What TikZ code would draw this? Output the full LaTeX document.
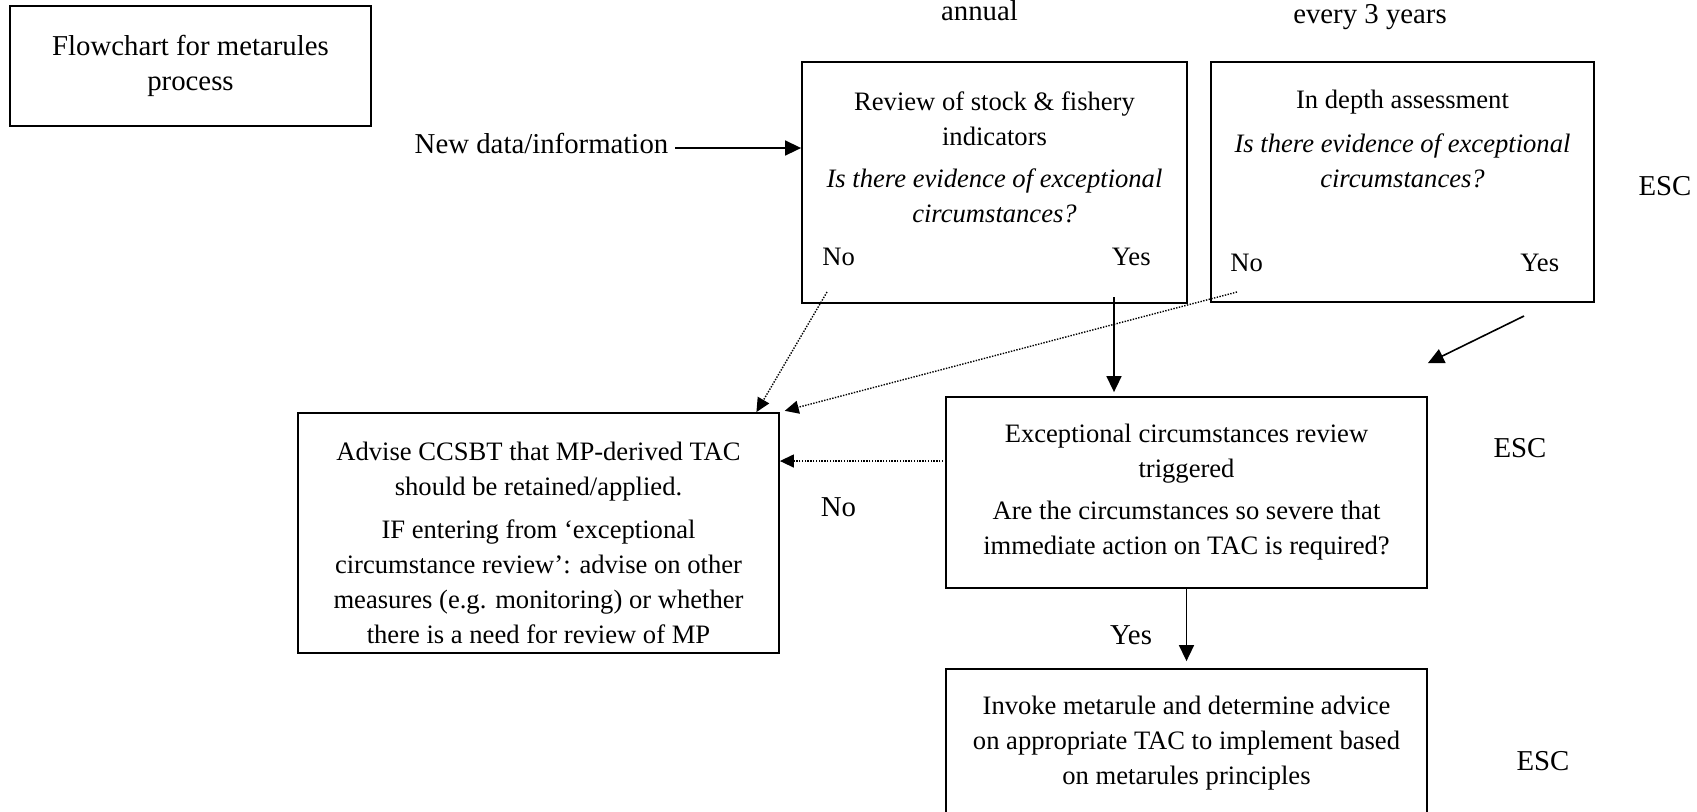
\documentclass[tikz,border=0pt]{standalone}
\usepackage{fontspec}
\setmainfont{Liberation Serif}
\usetikzlibrary{arrows.meta}

\begin{document}
\begin{tikzpicture}[
  x=0.5pt, y=-0.5pt,
  bigfont/.style={font=\fontsize{14.4pt}{17.5pt}\selectfont},
  boxfont/.style={font=\fontsize{13.3pt}{17.5pt}\selectfont},
  box/.style={draw, line width=0.9pt, inner sep=0pt, align=center},
  boxtext/.style={boxfont, align=center, inner sep=0pt},
  arrow/.style={-{Triangle[length=8pt, width=7.5pt]}, line width=0.8pt},
  dotarrow/.style={-{Triangle[length=7pt, width=6.5pt]}, line width=0.7pt, dash pattern=on 0.7pt off 0.7pt}
]
\useasboundingbox (0,0) rectangle (1697,811);

% boxes
\node[box, bigfont, minimum width=180.5pt, minimum height=60pt] (title) at (190.5,66) {Flowchart for metarules\\process};
\node[box, minimum width=192.5pt, minimum height=120.5pt] (review) at (994.5,182.5) {};
\node[boxtext] (reviewtext) at (994.5,157.5) {Review of stock \& fishery\\indicators\\[3.5pt]\textit{Is there evidence of exceptional}\\\textit{circumstances?}};
\node[box, minimum width=191.5pt, minimum height=120pt] (assess) at (1402.5,182) {};
\node[boxtext] (assesstext) at (1402.5,139) {In depth assessment\\[4.5pt]\textit{Is there evidence of exceptional}\\\textit{circumstances?}};
\node[box, boxfont, minimum width=240.5pt, minimum height=95.5pt] (trigger) at (1186.5,492.5) {Exceptional circumstances review\\triggered\\[3.5pt]Are the circumstances so severe that\\immediate action on TAC is required?};
\node[box, minimum width=240.5pt, minimum height=120pt] (advise) at (538.5,533) {};
\node[boxtext] (advisetext) at (538.5,542.5) {Advise CCSBT that MP-derived TAC\\should be retained/applied.\\[4pt]IF entering from ‘exceptional\\circumstance review’: advise on other\\measures (e.g. monitoring) or whether\\there is a need for review of MP};
\node[box, boxfont, minimum width=240.5pt, minimum height=74pt] (invoke) at (1186.5,743) {Invoke metarule and determine advice\\on appropriate TAC to implement based\\on metarules principles};

% answers inside the boxes
\node[boxfont, anchor=west, inner sep=0pt] (reviewno) at (822,257) {No};
\node[boxfont, anchor=east, inner sep=0pt] (reviewyes) at (1151,257) {Yes};
\node[boxfont, anchor=west, inner sep=0pt] (assessno) at (1230,263) {No};
\node[boxfont, anchor=east, inner sep=0pt] (assessyes) at (1559.5,263) {Yes};

% free labels
\node[bigfont, anchor=base] (newdata) at (541.5,153) {New data/information};
\node[bigfont, anchor=base] (annual) at (979.5,20) {annual};
\node[bigfont, anchor=base] (triennial) at (1370,23) {every 3 years};
\node[bigfont] (triggerno) at (838.5,507) {No};
\node[bigfont] (triggeryes) at (1131,635) {Yes};
\foreach \n/\x/\y in {1/1665/186, 2/1520/448, 3/1543/761} {
  \node[bigfont] (esc\n) at (\x,\y) {ESC};
}

% connectors
\coordinate (newdataout) at ([yshift=2.5pt]newdata.base east);
\draw[arrow] (newdataout) -- (newdataout -| review.west);
\coordinate (reviewyesout) at (1114,297);
\draw[arrow, shorten >=2pt] (reviewyesout) -- (reviewyesout |- trigger.north);
\coordinate (reviewnoout) at (827,292);
\draw[dotarrow] (reviewnoout) -- ([xshift=-11.75pt]advise.north east);
\coordinate (assessnoout) at (1237,292);
\draw[dotarrow, shorten >=2.5pt] (assessnoout) -- (advise.north east);
\coordinate (assessyesout) at (1524,316);
\draw[arrow] (assessyesout) -- ([yshift=16.5pt]trigger.north east);
\coordinate (triggernoout) at (946,461);
\draw[dotarrow] (triggernoout) -- (triggernoout -| advise.east);
\draw[arrow, shorten >=3.5pt] (trigger.south) -- (invoke.north);
\end{tikzpicture}
\end{document}
